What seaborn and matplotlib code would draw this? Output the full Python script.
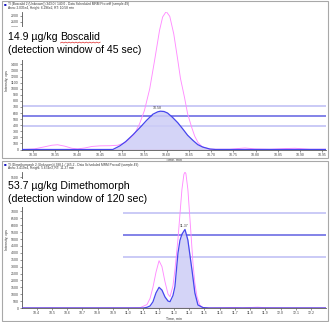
import matplotlib
matplotlib.use("Agg")
import matplotlib.pyplot as plt
import numpy as np
import pandas as pd
import seaborn as sns
from matplotlib.patches import Rectangle
from matplotlib.lines import Line2D
from matplotlib.ticker import MultipleLocator, FormatStrFormatter, FuncFormatter

# ---------------- data ----------------
# Top panel: Boscalid
bos_quant_time = [10.275, 10.303, 10.326, 10.342, 10.355, 10.371, 10.387, 10.400, 10.416,
                  10.432, 10.450, 10.472, 10.490, 10.506, 10.517, 10.528, 10.539, 10.550,
                  10.562, 10.573, 10.584, 10.591, 10.599, 10.607, 10.616, 10.625, 10.631,
                  10.640, 10.647, 10.656, 10.663, 10.670, 10.679, 10.686, 10.697, 10.708,
                  10.742, 10.776, 10.798, 10.832, 10.866, 10.888, 10.922, 10.958]
bos_quant_int = [0, 10, 45, 70, 78, 55, 20, 10, 25,
                 50, 60, 62, 70, 110, 180, 260, 420, 640,
                 1000, 1470, 1960, 2180, 2270, 2190, 1900, 1470, 1170,
                 860, 590, 370, 220, 120, 50, 30, 5, 5,
                 5, 25, 10, 5, 15, 20, 5, 5]
bos_qual_time = [10.275, 10.479, 10.495, 10.508, 10.524, 10.540, 10.555, 10.569, 10.580,
                 10.586, 10.594, 10.602, 10.613, 10.625, 10.636, 10.647, 10.659, 10.670,
                 10.681, 10.697, 10.710, 10.958]
bos_qual_int = [0, 0, 60, 130, 240, 360, 480, 580, 620,
                630, 625, 600, 530, 440, 340, 235, 150, 80,
                40, 8, 0, 0]
bos_ratio_lines = [380, 545, 710]
bos_baseline = [10.479, 10.710]
bos_hidden_ticks = [1500, 1600, 1700, 1800, 1900]
bos_title = ["14.9 µg/kg ", "Boscalid", "(detection window of 45 sec)"]
bos_header = ["Tl (Boscalid 2 (Unknown)) 343.0 / 140.0 - Data Scheduled MRM Pro.wiff (sample 49)",
              "Area: 2.035e4, Height: 6.296e2, RT: 10.58 min"]
bos_rt = "10.58"

# Bottom panel: Dimethomorph
dim_quant_time = [10.304, 10.50, 10.70, 10.90, 11.00, 11.078, 11.124, 11.144, 11.163,
                  11.183, 11.203, 11.222, 11.242, 11.262, 11.275, 11.294, 11.307, 11.327,
                  11.340, 11.353, 11.366, 11.373, 11.379, 11.392, 11.406, 11.419, 11.425,
                  11.438, 11.452, 11.471, 11.491, 11.524, 11.60, 11.70, 11.75, 11.85,
                  11.90, 12.00, 12.298]
dim_quant_int = [0, 10, 5, 10, 10, 20, 250, 700, 1500,
                 2600, 3430, 3000, 1900, 1000, 820, 1600, 2750, 5000,
                 6800, 8600, 9700, 9850, 9750, 8600, 6400, 4300, 3300,
                 1800, 820, 200, 30, 5, 10, 40, 10, 60,
                 20, 10, 5]
dim_qual_time = [10.304, 11.100, 11.124, 11.144, 11.163, 11.183, 11.203, 11.222, 11.242,
                 11.262, 11.275, 11.294, 11.307, 11.327, 11.340, 11.353, 11.373, 11.392,
                 11.406, 11.419, 11.438, 11.458, 11.491, 11.530, 12.298]
dim_qual_int = [0, 0, 50, 150, 450, 1100, 1500, 1300, 800,
                500, 460, 900, 1550, 3980, 4900, 5350, 5700, 4930,
                3800, 2750, 1090, 220, 30, 0, 0]
dim_ratio_lines = [3710, 5300, 6900]
dim_ratio_start = 10.966
dim_baseline = [10.304, 12.298]
dim_hidden_ticks = [7500, 8000, 8500, 9000]
dim_title = ["53.7 µg/kg Dimethomorph", "", "(detection window of 120 sec)"]
dim_header = ["Tl (Dimethomorph 2 (Unknown)) 388.1 / 165.2 - Data Scheduled MRM Pro.wiff (sample 49)",
              "Area: 3.419e4, Height: 5.674e3, RT: 11.37 min"]
dim_rt = "11.37"

# ---------------- style ----------------
sns.set_theme(style="white")
plt.rcParams['font.family'] = ['Liberation Sans', 'DejaVu Sans']

W, H = 330, 322
fig = plt.figure(figsize=(W / 100, H / 100), dpi=100)
fig.patch.set_facecolor("white")

PINK = "#ff8cff"
BLUE = "#4646ee"
FILL = "#cdcdf6"
LINE_LIGHT = "#c6c6f6"
LINE_MID = "#7878e6"
BASE_RED = "#c02040"


def fx(px):
    return px / W


def fy(py):
    return 1 - py / H


def panel(ax, qt, qi, lt, li, ratios, ratio_start, baseline, xlim, ylim, xstep, ystep, xfmt, rt,
          hidden):
    dq = pd.DataFrame({"time": qt, "intensity": qi})
    dl = pd.DataFrame({"time": lt, "intensity": li})
    for i, r in enumerate(ratios):
        col = LINE_MID if i == 1 else LINE_LIGHT
        ax.hlines(r, ratio_start if ratio_start is not None else xlim[0], xlim[1],
                  color=col, lw=1.3, zorder=1)
    ax.fill_between(dl["time"], 0, dl["intensity"], color=FILL, alpha=0.85, lw=0, zorder=2)
    sns.lineplot(data=dq, x="time", y="intensity", ax=ax, color=PINK, lw=0.65,
                 estimator=None, sort=False, zorder=3)
    sns.lineplot(data=dl, x="time", y="intensity", ax=ax, color=BLUE, lw=0.9,
                 estimator=None, sort=False, zorder=4)
    ax.hlines(0, baseline[0], baseline[1], color=BASE_RED, lw=0.8, zorder=5)
    k = int(np.argmax(dl["intensity"]))
    ax.text(float(rt), dl["intensity"][k] + (ylim[1] - ylim[0]) * 0.012, rt,
            fontsize=2.6, color="#444444", ha="center", va="bottom")
    ax.set_xlim(*xlim)
    ax.set_ylim(*ylim)
    ax.xaxis.set_major_locator(MultipleLocator(xstep))
    ax.xaxis.set_major_formatter(FormatStrFormatter(xfmt))
    ax.yaxis.set_major_locator(MultipleLocator(ystep))
    ax.yaxis.set_major_formatter(FuncFormatter(
        lambda v, p: "" if int(round(v)) in hidden else "%d" % int(round(v))))
    for s in ["top", "right"]:
        ax.spines[s].set_visible(False)
    for s in ["left", "bottom"]:
        ax.spines[s].set_color("#555555")
        ax.spines[s].set_linewidth(0.6)
    ax.tick_params(axis="both", labelsize=2.5, length=1.5, width=0.4, pad=1,
                   colors="#444444", left=True, bottom=True)
    ax.set_xlabel("Time, min", fontsize=2.6, labelpad=0.6, color="#333333")
    ax.set_ylabel("Intensity, cps", fontsize=2.6, labelpad=1.0, color="#333333")


ax1 = fig.add_axes([fx(22), fy(149.5), fx(304), (149.5 - 11.5) / H])
ax2 = fig.add_axes([fx(22), fy(308), fx(304), (308 - 171.5) / H])

panel(ax1, bos_quant_time, bos_quant_int, bos_qual_time, bos_qual_int, bos_ratio_lines, None,
      bos_baseline, (10.275, 10.958), (0, 2270), 0.05, 100, "%.2f", bos_rt, bos_hidden_ticks)
panel(ax2, dim_quant_time, dim_quant_int, dim_qual_time, dim_qual_int, dim_ratio_lines,
      dim_ratio_start, dim_baseline, (10.304, 12.298), (0, 9900), 0.1, 500, "%.1f", dim_rt,
      dim_hidden_ticks)

# panel frames
for (y0, y1) in [(1, 158), (160.5, 320.5)]:
    fig.add_artist(Rectangle((fx(2), fy(y1)), fx(326), (y1 - y0) / H, transform=fig.transFigure,
                             fill=False, ec="#a8a8a8", lw=0.8, zorder=1))

# white boxes behind annotation text
for (x0, x1, y0, y1) in [(6, 146, 27, 60), (6, 150, 179, 207)]:
    fig.add_artist(Rectangle((fx(x0), fy(y1)), fx(x1 - x0), (y1 - y0) / H, transform=fig.transFigure,
                             fc="white", ec="none", zorder=2))

# headers
for hdr, ytop in [(bos_header, 4.5), (dim_header, 164.5)]:
    fig.text(fx(3.5), fy(ytop), "■", fontsize=3.2, color="#1010c0", va="center", zorder=3)
    fig.text(fx(8), fy(ytop), hdr[0], fontsize=2.3, color="#333333", va="center", zorder=3)
    fig.text(fx(8), fy(ytop + 3.6), hdr[1], fontsize=2.3, color="#333333", va="center", zorder=3)

# big annotation texts
renderer = fig.canvas.get_renderer()
for ttl, ytop in [(bos_title, 37), (dim_title, 186)]:
    t0 = fig.text(fx(8), fy(ytop), ttl[0], fontsize=7.6, color="black", va="center", zorder=4)
    if ttl[1]:
        bb0 = t0.get_window_extent(renderer)
        # trailing space width is included in extent
        t1 = fig.text(bb0.x1 / fig.bbox.width, fy(ytop), ttl[1], fontsize=7.6, color="black",
                      va="center", zorder=4)
        bb1 = t1.get_window_extent(renderer)
        # red spell-check squiggle under the word
        n = 24
        xs = np.linspace(bb1.x0, bb1.x1, n) / fig.bbox.width
        ys = (bb1.y0 - 1.0 + np.where(np.arange(n) % 2 == 0, 0.0, 0.9)) / fig.bbox.height
        fig.add_artist(Line2D(xs, ys, transform=fig.transFigure, color="#e03030", lw=0.5,
                              zorder=5))
    fig.text(fx(8), fy(ytop + 13), ttl[2], fontsize=7.6, color="black", va="center", zorder=4)

fig.savefig("out.png", dpi=100, facecolor="white")
